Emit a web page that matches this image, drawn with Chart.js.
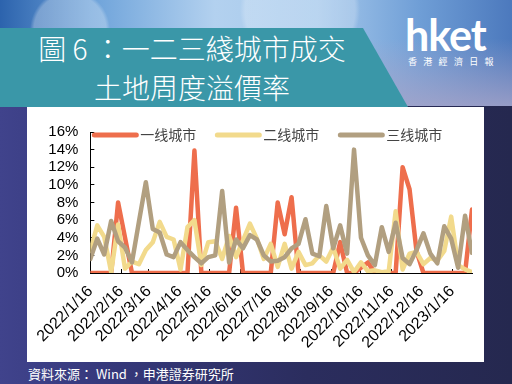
<!DOCTYPE html>
<html>
<head>
<meta charset="utf-8">
<script src="https://cdn.jsdelivr.net/npm/chart.js@4.4.0/dist/chart.umd.min.js"></script>
<style>
  html, body { margin: 0; padding: 0; }
  body {
    width: 512px; height: 384px; overflow: hidden; position: relative;
    background: #2a2c5c;
    font-family: "Noto Sans CJK TC", sans-serif;
  }
  #sky {
    position: absolute; left: 0; top: 0; width: 512px; height: 110px;
    background:
      radial-gradient(circle at 70px 30px, rgba(255,255,255,0.28) 0 36px, rgba(255,255,255,0) 40px),
      radial-gradient(circle at 300px 10px, rgba(255,255,255,0.22) 0 55px, rgba(255,255,255,0) 60px),
      linear-gradient(to bottom, rgba(255,255,255,0) 35%, rgba(168,164,200,0.85) 100%),
      linear-gradient(to right, #2c63ad 0%, #6ea3da 18%, #b3d1ef 42%, #a6c9ec 62%, #6f9ed6 82%, #4c79bd 100%);
  }
  #lower {
    position: absolute; left: 0; top: 106px; width: 512px; height: 278px;
    background: linear-gradient(to right, #40438c 0%, #36397c 20%, #2b2d5e 60%, #25284f 100%);
  }
  #banner {
    position: absolute; left: 0; top: 28px; width: 410px; height: 79px;
    background: #3a97a8;
    clip-path: polygon(0 0, 363px 0, 408px 79px, 0 79px);
  }
  #title {
    position: absolute; left: 0; top: 29px; width: 384px;
    color: #fff; font-size: 28px; line-height: 39px; text-align: center;
    font-weight: 300; white-space: nowrap;
  }
  #logo {
    position: absolute; left: 405px; top: 10px;
    color: #fff; font-family: "Lato", sans-serif; font-weight: 700;
    font-size: 43px; letter-spacing: -1px; line-height: 50px;
  }
  #logo2 {
    position: absolute; left: 408px; top: 56px;
    color: #fff; font-size: 9px; letter-spacing: 6.3px; line-height: 12px;
  }
  #panel {
    position: absolute; left: 27px; top: 107px; width: 457px; height: 255px;
    background: #fff;
  }
  #source {
    position: absolute; left: 28px; top: 365px;
    color: #fff; font-size: 13px; line-height: 17px; white-space: nowrap;
  }
</style>
</head>
<body>
<div id="sky"></div>
<div id="lower"></div>
<div id="banner"></div>
<div id="title">圖 6 ：一二三綫城市成交<br>土地周度溢價率</div>
<div id="logo">hket</div>
<div id="logo2">香港經濟日報</div>
<div id="panel"><canvas id="chart" width="457" height="255"></canvas></div>
<div id="source">資料來源： Wind ，申港證券研究所</div>

<script>
// weekly land premium rate (%), first week is 2022/1/16
var seriesNames = ["一线城市", "二线城市", "三线城市"];

var tier1 = [0, 0, 0, 0, 8.0, 4.0, 0, 0, 0, 0,
             0, 0, 0, 0, 0, 13.9, 0, 0, 0, 0,
             0, 7.4, 0, 0, 0, 0, 0, 8.0, 4.4, 8.6,
             0, 0, 0, 0, 0, 0, 3.5, 0, 0, 0.6,
             1.2, 0, 0, 0, 0, 12.0, 9.5, 2.5, 0, 0,
             0, 0, 0, 0, 0, 7.2];

var tier2 = [2.5, 5.4, 4.1, 0.1, 5.5, 0.5, 1.3, 1.0, 2.6, 3.5,
             5.8, 4.1, 3.8, 0.4, 5.2, 6.0, 0.9, 3.5, 3.6, 1.6,
             4.2, 1.8, 3.7, 5.6, 3.9, 1.6, 3.3, 0.7, 3.3, 0.5,
             2.4, 0.9, 1.1, 2.0, 1.3, 2.9, 0.5, 1.5, 0.1, 1.2,
             0.2, 0.3, 0.1, 0.2, 7.0, 0.4, 2.2, 2.4, 1.0, 1.7,
             1.4, 2.5, 6.4, 0.9, 0.4, 0.1];

var tier3 = [1.6, 3.9, 2.1, 5.9, 3.6, 2.9, 1.2, 5.8, 10.3, 5.0,
             4.6, 2.1, 1.8, 3.5, 2.6, 1.8, 1.1, 1.8, 2.0, 9.3,
             1.2, 3.8, 2.8, 4.3, 3.8, 2.0, 1.3, 1.4, 1.8, 2.8,
             3.3, 6.1, 2.2, 1.9, 7.6, 2.8, 5.4, 2.2, 14.0, 4.0,
             2.0, 0.9, 5.2, 2.4, 5.7, 1.7, 1.0, 2.6, 4.5, 2.2,
             1.1, 5.3, 3.9, 0.6, 6.5, 2.3];

var tickLabels = ["2022/1/16", "2022/2/16", "2022/3/16", "2022/4/16", "2022/5/16",
                  "2022/6/16", "2022/7/16", "2022/8/16", "2022/9/16", "2022/10/16",
                  "2022/11/16", "2022/12/16", "2023/1/16"];

var yTicks = [0, 2, 4, 6, 8, 10, 12, 14, 16];

// days since the first week, so the x axis works like a date axis
function dayOf(s) {
  var p = s.split("/");
  return (Date.UTC(+p[0], +p[1] - 1, +p[2]) - Date.UTC(2022, 0, 16)) / 86400000;
}
var tickDays = tickLabels.map(dayOf);

function weekly(arr) {
  return arr.map(function (v, i) { return { x: i * 7, y: v }; });
}

var lineColors = ["#ee6e4c", "#f2da8c", "#b19f80"];

// legend sits inside the plot, like the original
var insideLegend = {
  id: "insideLegend",
  afterDatasetsDraw: function (chart) {
    var ctx = chart.ctx, area = chart.chartArea;
    var x = area.left + 4, y = area.top + 3;
    ctx.save();
    ctx.font = "14px 'Noto Sans CJK SC', sans-serif";
    ctx.textBaseline = "middle";
    chart.data.datasets.forEach(function (ds) {
      ctx.strokeStyle = ds.borderColor;
      ctx.lineWidth = 5;
      ctx.lineCap = "round";
      ctx.beginPath();
      ctx.moveTo(x, y);
      ctx.lineTo(x + 42, y);
      ctx.stroke();
      ctx.fillStyle = "#444";
      ctx.fillText(ds.label, x + 46, y);
      x += 123;
    });
    ctx.restore();
  }
};

var ctx = document.getElementById("chart");
var chartConfig = {
  type: "line",
  data: {
    datasets: [
      { label: seriesNames[0], data: weekly(tier1), borderColor: lineColors[0], order: 3 },
      { label: seriesNames[1], data: weekly(tier2), borderColor: lineColors[1], order: 2 },
      { label: seriesNames[2], data: weekly(tier3), borderColor: lineColors[2], order: 1 }
    ]
  },
  options: {
    responsive: false,
    animation: false,
    elements: {
      line: { borderWidth: 4.5, tension: 0, borderJoinStyle: "round", borderCapStyle: "round" },
      point: { radius: 0 }
    },
    layout: { padding: { top: 22, right: 12, left: 0, bottom: 0 } },
    plugins: { legend: { display: false }, tooltip: { enabled: false } },
    scales: {
      x: {
        type: "linear",
        min: 0,
        max: 385,
        afterBuildTicks: function (axis) {
          axis.ticks = tickDays.map(function (d) { return { value: d }; });
        },
        afterFit: function (axis) { axis.height = 89; },
        grid: { drawOnChartArea: false, tickLength: -4, color: "#000" },
        border: { color: "#000" },
        ticks: {
          autoSkip: false, maxRotation: 45, minRotation: 45, padding: 13,
          color: "#000", font: { family: "'Liberation Sans', Arial, sans-serif", size: 16 },
          callback: function (v, i) { return tickLabels[i]; }
        }
      },
      y: {
        min: 0,
        max: 16,
        afterBuildTicks: function (axis) {
          axis.ticks = yTicks.map(function (v) { return { value: v }; });
        },
        afterFit: function (axis) { axis.width = 61.5; },
        grid: { drawOnChartArea: false, tickLength: -4, color: "#000" },
        border: { color: "#000" },
        ticks: {
          autoSkip: false, padding: 16, color: "#000",
          font: { family: "'Liberation Sans', Arial, sans-serif", size: 15 },
          callback: function (v) { return v + "%"; }
        }
      }
    }
  },
  plugins: [insideLegend]
};
var chartObj = new Chart(ctx, chartConfig);
</script>
</body>
</html>
